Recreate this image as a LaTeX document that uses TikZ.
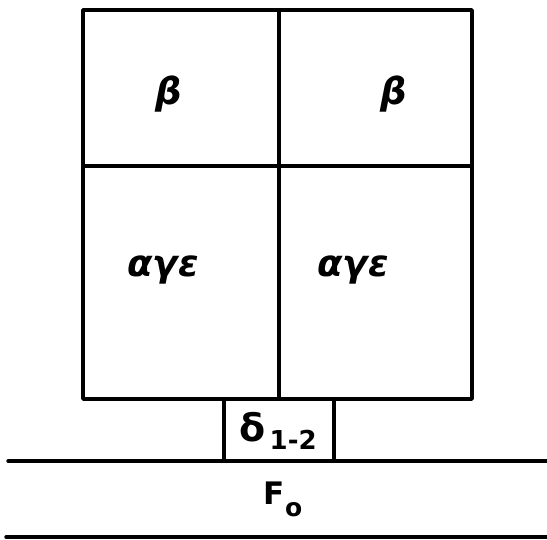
\documentclass[tikz,border=0pt]{standalone}
\usepackage{fontspec}
\setmainfont{DejaVu Sans}
\newfontfamily\grk{DejaVu Sans Bold Oblique}
\newfontfamily\bsans{DejaVu Sans Bold}
\begin{document}
\begin{tikzpicture}[x=1pt,y=-1pt,
  wall/.style={line width=3.4pt,line cap=round,line join=round},
  lbl/.style={inner sep=0pt,font=\grk\fontsize{37}{37}\selectfont},
  sml/.style={inner sep=0pt,font=\bsans}]
\useasboundingbox (0,0) rectangle (547,540);
\coordinate (tl) at (83,10);
\coordinate (tr) at (472,10);
\coordinate (bl) at (83,399);
\coordinate (br) at (472,399);
\coordinate (mt) at (279,10);
\coordinate (mb) at (279,399);
\coordinate (dl) at (83,166);
\coordinate (dr) at (472,166);
\draw[wall] (tl) rectangle (br);
\draw[wall] (mt) -- (mb);
\draw[wall] (dl) -- (dr);
\coordinate (sa) at (224,399);
\coordinate (sb) at (334,461);
\draw[wall] (sa) rectangle (sb);
\coordinate (g1) at (8,461);
\coordinate (g2) at (547,461);
\coordinate (h1) at (6,537);
\coordinate (h2) at (547,537);
\draw[wall] (g1) -- (g2);
\draw[wall] (h1) -- (h2);
\node[lbl] (b1) at (169,94) {β};
\node[lbl] (b2) at (394,94) {β};
\node[lbl] (a1) at (163,270) {αγε};
\node[lbl] (a2) at (353,270) {αγε};
\node[sml] (d) at (278,431) {\fontsize{38}{38}\selectfont δ\raisebox{-8pt}{\fontsize{26}{26}\selectfont\,1-2}};
\node[sml] (f) at (283,499) {\fontsize{31}{31}\selectfont F\raisebox{-12pt}{\fontsize{25}{25}\selectfont o}};
\end{tikzpicture}
\end{document}
